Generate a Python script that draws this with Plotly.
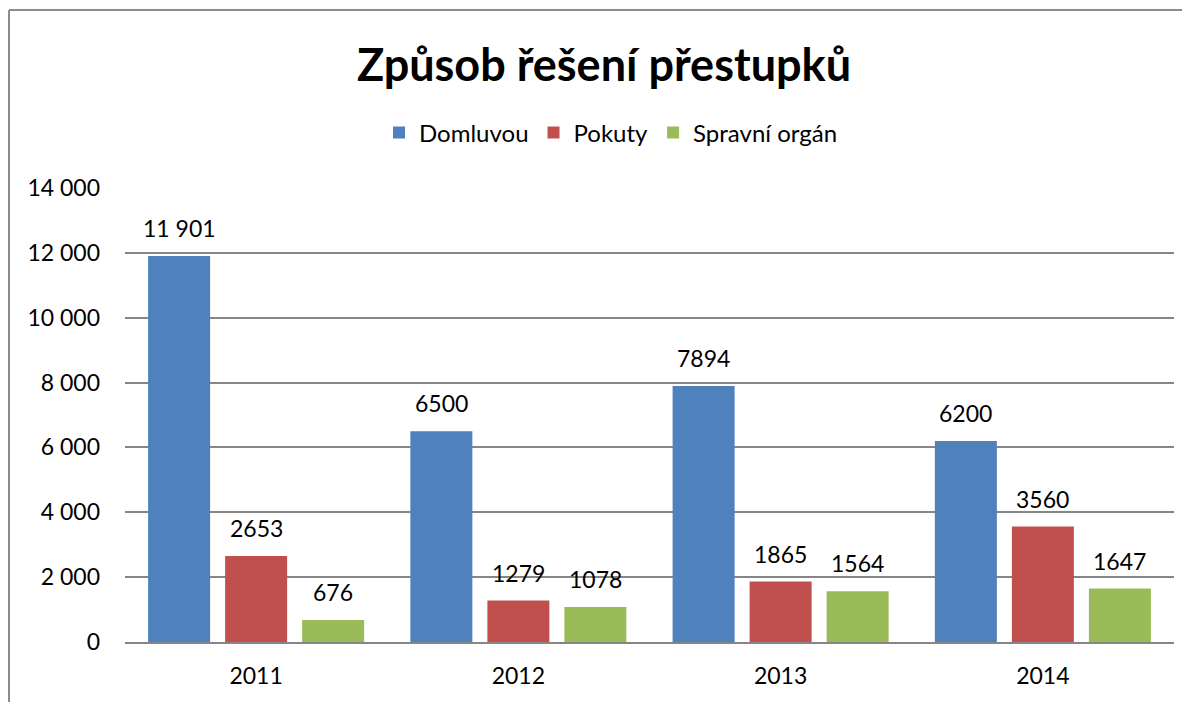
import plotly.graph_objects as go

years = ["2011", "2012", "2013", "2014"]
series_names = ["Domluvou", "Pokuty", "Spravní orgán"]
domluvou = [11901, 6500, 7894, 6200]
pokuty = [2653, 1279, 1865, 3560]
spravni = [676, 1078, 1564, 1647]
colors = ["#4F81BD", "#C0504D", "#9BBB59"]
y_ticks = [0, 2000, 4000, 6000, 8000, 10000, 12000, 14000]

FONT = "Lato"
OFF = 8  # page body margin
W, H = 1190 - OFF, 702 - OFF
L, R, T, B = 125 - OFF, 16, 188 - OFF, 60
BARGAP = 0.119
BARGROUPGAP = 0.195


def fmt(v):
    # Excel Czech format: separator only for 5+ digit numbers
    return f"{v:,}".replace(",", " ") if v >= 10000 else str(v)


fig = go.Figure()
all_series = [domluvou, pokuty, spravni]
for name, vals, col in zip(series_names, all_series, colors):
    fig.add_trace(go.Bar(
        name=name, x=years, y=vals, marker=dict(color=col, line=dict(width=0)),
        hoverinfo="x+y+name",
    ))

# data labels above bars, placed in data coordinates
slot = (1 - BARGAP) / len(all_series)
annotations = []
for i, vals in enumerate(all_series):
    for j, v in enumerate(vals):
        annotations.append(dict(
            x=j + (i - 1) * slot, y=v, xref="x", yref="y",
            text=fmt(v), showarrow=False, yanchor="bottom", yshift=12,
            font=dict(family=FONT, size=23, color="#000000"),
        ))

pw = W - L - R
ph = H - T - B


def px_x(px):
    return (px - OFF - L) / pw


def px_y(py):
    return (H - B - (py - OFF)) / ph


shapes = [
    dict(type="line", xref="paper", yref="paper", x0=px_x(9), x1=1.2, y0=px_y(10), y1=px_y(10),
         line=dict(color="#8C8C8C", width=2)),
    dict(type="line", xref="paper", yref="paper", x0=px_x(9), x1=px_x(9), y0=-0.3, y1=px_y(10),
         line=dict(color="#8C8C8C", width=2)),
]

fig.update_layout(
    width=W, height=H,
    margin=dict(l=L, r=R, t=T, b=B, autoexpand=False),
    paper_bgcolor="white", plot_bgcolor="white",
    barmode="group", bargap=BARGAP, bargroupgap=BARGROUPGAP,
    separators=", ",
    font=dict(family=FONT, size=23, color="#000000"),
    title=dict(text="<b>Způsob řešení přestupků</b>", x=px_x(604), xref="paper",
               xanchor="center", y=1 - (65 - OFF) / H, yanchor="middle",
               font=dict(family=FONT, size=45, color="#000000")),
    legend=dict(orientation="h", x=px_x(611), xanchor="center",
                y=px_y(133), yanchor="middle",
                font=dict(family=FONT, size=24), itemwidth=30, tracegroupgap=0,
                bgcolor="rgba(0,0,0,0)"),
    xaxis=dict(type="category", showgrid=False, showline=True, linecolor="#868686",
               linewidth=2, ticks="", ticklabelstandoff=12,
               tickfont=dict(family=FONT, size=23)),
    yaxis=dict(range=[0, 14000], tickvals=y_ticks, tickformat=",d", showgrid=True,
               gridcolor="#868686", gridwidth=1.5, zeroline=False, showline=False,
               ticks="", ticklabelstandoff=24, tickfont=dict(family=FONT, size=23)),
    annotations=annotations, shapes=shapes,
    showlegend=True,
)

fig.write_html("out.html")
